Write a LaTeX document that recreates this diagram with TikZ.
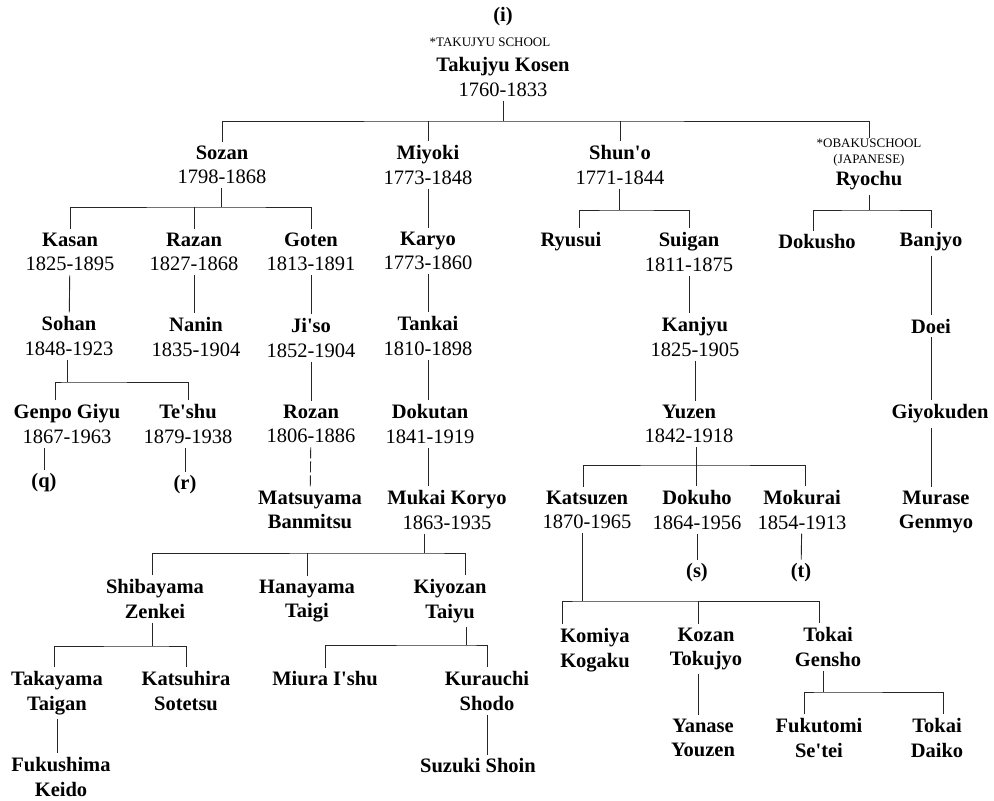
\documentclass[tikz,border=0pt]{standalone}
\usepackage{fontspec}
\setmainfont{Liberation Serif}

\begin{document}
\begin{tikzpicture}[x=1pt, y=-1pt,
person/.style={align=center, inner sep=4pt, font=\fontsize{20.5}{24.5}\selectfont},
monk/.style={align=center, inner sep=4pt, font=\fontsize{20.5}{24.5}\selectfont\bfseries},
school/.style={align=center, inner sep=1pt, font=\fontsize{13}{16}\selectfont},
link/.style={draw=black!85, line width=0.9pt}]
\useasboundingbox (0,0) rectangle (994,801);

% Takujyu line
\node[monk] (top) at (503,17) {(i)};
\node[school] (takschool) at (490,42) {*TAKUJYU SCHOOL};
\node[person] (takujyu) at (503,77) {\textbf{Takujyu Kosen}\\1760-1833};
\node[person] (sozan) at (222,165) {\textbf{Sozan}\\1798-1868};
\node[person] (miyoki) at (428,165) {\textbf{Miyoki}\\1773-1848};
\node[person] (shuno) at (620,165) {\textbf{Shun\textquotesingle o}\\1771-1844};
\node[school] (obaku) at (869,153) {*OBAKUSCHOOL\\(JAPANESE)};
\node[monk] (ryochu) at (869,181) {Ryochu};

\node[person] (kasan) at (70,252) {\textbf{Kasan}\\1825-1895};
\node[person] (razan) at (194,252) {\textbf{Razan}\\1827-1868};
\node[person] (goten) at (311,252) {\textbf{Goten}\\1813-1891};
\node[person] (karyo) at (428,251) {\textbf{Karyo}\\1773-1860};
\node[monk] (ryusui) at (571,242) {Ryusui};
\node[person] (suigan) at (689,252) {\textbf{Suigan}\\1811-1875};
\node[monk] (dokusho) at (817,242) {Dokusho};
\node[monk] (banjyo) at (931,242) {Banjyo};

\node[person] (sohan) at (69,336) {\textbf{Sohan}\\1848-1923};
\node[person] (nanin) at (196,337) {\textbf{Nanin}\\1835-1904};
\node[person] (jiso) at (311,338) {\textbf{Ji\textquotesingle so}\\1852-1904};
\node[person] (tankai) at (428,336) {\textbf{Tankai}\\1810-1898};
\node[person] (kanjyu) at (695,337) {\textbf{Kanjyu}\\1825-1905};
\node[monk] (doei) at (931,326) {Doei};

\node[person] (genpo) at (67,424) {\textbf{Genpo Giyu}\\1867-1963};
\node[person] (teshu) at (188,424) {\textbf{Te\textquotesingle shu}\\1879-1938};
\node[person] (rozan) at (311,424) {\textbf{Rozan}\\1806-1886};
\node[person] (dokutan) at (430,424) {\textbf{Dokutan}\\1841-1919};
\node[person] (yuzen) at (689,424) {\textbf{Yuzen}\\1842-1918};
\node[monk] (giyokuden) at (940,414) {Giyokuden};
\node[monk] (q) at (44,483) {(q)};
\node[monk] (r) at (185,485) {(r)};

\node[monk] (matsuyama) at (310,510) {Matsuyama\\Banmitsu};
\node[person] (mukai) at (447,510) {\textbf{Mukai Koryo}\\1863-1935};
\node[person] (katsuzen) at (587,510) {\textbf{Katsuzen}\\1870-1965};
\node[person] (dokuho) at (697,510) {\textbf{Dokuho}\\1864-1956};
\node[person] (mokurai) at (802,510) {\textbf{Mokurai}\\1854-1913};
\node[monk] (murase) at (936,512) {Murase\\Genmyo};
\node[monk] (s) at (697,573) {(s)};
\node[monk] (t) at (801,573) {(t)};

\node[monk] (shibayama) at (155,599) {Shibayama\\Zenkei};
\node[monk] (hanayama) at (307,601) {Hanayama\\Taigi};
\node[monk] (kiyozan) at (450,601) {Kiyozan\\Taiyu};
\node[monk] (komiya) at (595,650) {Komiya\\Kogaku};
\node[monk] (kozan) at (706,649) {Kozan\\Tokujyo};
\node[monk] (tokaig) at (828,647) {Tokai\\Gensho};

\node[monk] (takayama) at (57,693) {Takayama\\Taigan};
\node[monk] (katsuhira) at (186,691) {Katsuhira\\Sotetsu};
\node[monk] (miura) at (325,679) {Miura I\textquotesingle shu};
\node[monk] (kurauchi) at (487,691) {Kurauchi\\Shodo};
\node[monk] (yanase) at (703,738) {Yanase\\Youzen};
\node[monk] (fukutomi) at (819,738) {Fukutomi\\Se\textquotesingle tei};
\node[monk] (tokaid) at (937,738) {Tokai\\Daiko};
\node[monk] (fukushima) at (61,777) {Fukushima\\Keido};
\node[monk] (suzuki) at (478,766) {Suzuki Shoin};

% fork points
\coordinate (f0) at (503,121);
\coordinate (fSz) at (221,207);
\coordinate (fSh) at (619,210);
\coordinate (fRy) at (869,210);
\coordinate (fSo) at (67,382);
\coordinate (fYz) at (696,465);
\coordinate (fMk) at (424,553);
\coordinate (fKs) at (582,601);
\coordinate (fKz) at (698,601);
\coordinate (fSb) at (152,646);
\coordinate (fKy) at (466,645);
\coordinate (fTg) at (823,692);

% Takujyu Kosen
\draw[link] (takujyu.south -| f0) -- (f0);
\draw[link] (sozan.north) |- (f0) -| (obaku.north);
\draw[link] (miyoki.north |- f0) -- (miyoki.north);
\draw[link] (shuno.north |- f0) -- (shuno.north);

% Sozan
\draw[link] (sozan.south -| fSz) -- (fSz);
\draw[link] (kasan.north) |- (fSz) -| (goten.north);
\draw[link] (razan.north |- fSz) -- (razan.north);
\draw[link] (kasan) -- (sohan);
\draw[link] (razan) -- (razan |- nanin.north);
\draw[link] (goten) -- (jiso);
\draw[link] (jiso) -- (rozan);
\draw[link, dash pattern=on 11pt off 3pt] (rozan) -- (matsuyama);
\draw[link] (sohan.south -| fSo) -- (fSo);
\draw[link] ([xshift=-12pt]genpo.north) |- (fSo) -| (teshu.north);
\draw[link] (q) -- (q |- genpo.south);
\draw[link] (r) -- (r |- teshu.south);

% Miyoki
\draw[link] (miyoki) -- (karyo);
\draw[link] (karyo) -- (tankai);
\draw[link] (tankai) -- (tankai |- dokutan.north);
\draw[link] (dokutan.south -| tankai) -- (tankai |- mukai.north);
\draw[link] (mukai.south -| fMk) -- (fMk);
\draw[link] ([xshift=-3pt]shibayama.north) |- (fMk) -| ([xshift=15pt]kiyozan.north);
\draw[link] (hanayama.north |- fMk) -- (hanayama.north);
\draw[link] (shibayama.south -| fSb) -- (fSb);
\draw[link] ([xshift=-3pt]takayama.north) |- (fSb) -| (katsuhira.north);
\draw[link] (takayama) -- (takayama |- fukushima.north);
\draw[link] (kiyozan.south -| fKy) -- (fKy);
\draw[link] (miura.north) |- (fKy) -| (kurauchi.north);
\draw[link] (kurauchi) -- (kurauchi |- suzuki.north);

% Shun'o
\draw[link] (shuno.south -| fSh) -- (fSh);
\draw[link] ([xshift=8pt]ryusui.north) |- (fSh) -| (suigan.north);
\draw[link] (suigan) -- (suigan |- kanjyu.north);
\draw[link] (kanjyu) -- (kanjyu |- yuzen.north);
\draw[link] (yuzen.south -| fYz) -- (fYz |- dokuho.north);
\draw[link] ([xshift=-4pt]katsuzen.north) |- (fYz) -| ([xshift=3pt]mokurai.north);
\draw[link] (dokuho) -- (s);
\draw[link] (mokurai) -- (t);
\draw[link] (katsuzen.south -| fKs) -- (fKs);
\draw[link] ([xshift=-33pt]komiya.north) |- (fKs) -| ([xshift=-9pt]tokaig.north);
\draw[link] (fKz) -- (fKz |- kozan.north);
\draw[link] (kozan.south -| fKz) -- (fKz |- yanase.north);
\draw[link] (tokaig.south -| fTg) -- (fTg);
\draw[link] ([xshift=-15pt]fukutomi.north) |- (fTg) -| ([xshift=6pt]tokaid.north);

% Ryochu
\draw[link] (ryochu.south -| fRy) -- (fRy);
\draw[link] ([xshift=-4pt]dokusho.north) |- (fRy) -| (banjyo.north);
\draw[link] (banjyo) -- (doei);
\draw[link] (doei) -- (doei |- giyokuden.north);
\draw[link] (giyokuden.south -| doei) -- (doei |- murase.north);
\end{tikzpicture}
\end{document}
